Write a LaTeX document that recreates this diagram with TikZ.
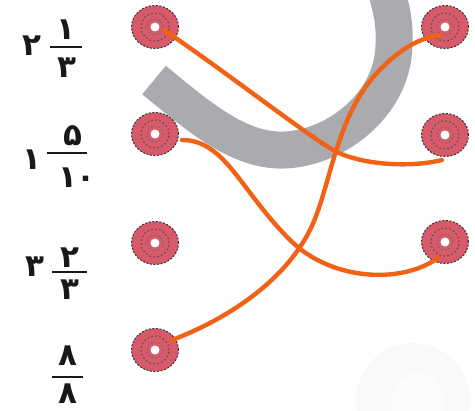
\documentclass[tikz,border=0pt]{standalone}
\usepackage{fontspec}
\newfontfamily\fafont[Script=Arabic]{DejaVu Sans}
\usetikzlibrary{shapes.geometric}
\definecolor{dotred}{RGB}{214,90,106}
\definecolor{wire}{RGB}{242,98,22}
\definecolor{band}{RGB}{170,171,175}
\tikzset{
  dotc/.style={ellipse, minimum width=47pt, minimum height=43pt, inner sep=0pt,
    fill=dotred, draw=black!80, line width=1pt, dash pattern=on 2pt off 1.6pt,
    path picture={
      \draw[black!70, line width=1pt, dash pattern=on 1.6pt off 2.4pt]
        (path picture bounding box.center) circle (14pt);
      \draw[black!60, line width=0.9pt, dash pattern=on 1.2pt off 2.6pt]
        (path picture bounding box.center) circle (8pt);
      \fill[white] (path picture bounding box.center) circle (4.5pt);
    }},
  wirel/.style={draw=wire, line width=4.4pt, line cap=round},
  digit/.style={font=\fafont\bfseries\fontsize{31}{31}\selectfont, inner sep=0pt, text=black!90},
  fbar/.style={line width=2.8pt, black!90},
}
\begin{document}
\begin{tikzpicture}[x=1pt,y=-1pt]
\useasboundingbox (0,0) rectangle (475,411);
% faint watermark at bottom right
\fill[black!2.5] (413,400) circle (57);
\fill[black!1] (418,405) ellipse (26 and 32);
% gray band watermark
\draw[band, line width=37pt, line cap=butt]
  (154,80) .. controls (200,118) and (240,152) .. (285,150)
  .. controls (335,148) and (393,105) .. (394,45)
  .. controls (395,25) and (392,10) .. (386,-10);

% dots
\node[dotc] (l1) at (155,27) {};
\node[dotc] (l2) at (155,134) {};
\node[dotc] (l3) at (155,243) {};
\node[dotc] (l4) at (155,350) {};
\node[dotc] (r1) at (445,27) {};
\node[dotc] (r2) at (445,135) {};
\node[dotc] (r3) at (445,242) {};

% connectors
\path[wirel] ([shift={(9,3)}]l1.center)
  .. controls (230,75) and (300,130) .. (333,150)
  .. controls (360,165) and (410,168) .. ([shift={(-3,25)}]r2.center);
\path[wirel] ([shift={(27,6)}]l2.center)
  .. controls (225,140) and (240,190) .. (290,240)
  .. controls (330,280) and (400,285) .. ([shift={(-7,16)}]r3.center);
\path[wirel] ([shift={(17,-10)}]l4.center)
  .. controls (230,318) and (285,280) .. (310,230)
  .. controls (330,190) and (335,120) .. (375,75)
  .. controls (400,48) and (420,38) .. ([shift={(-5,8)}]r1.center);

% labels
% 2 1/3
\node[digit] (w1) at (32,46) {۲};
\node[digit] (n1) at (66,30) {۱};
\draw[fbar] (50,47) coordinate (b1a) -- (82,47) coordinate (b1b);
\node[digit] (d1) at (67,68) {۳};
% 1 5/10
\node[digit] (w2) at (32,160) {۱};
\node[digit] (n2) at (73,136) {۵};
\draw[fbar] (47,153) coordinate (b2a) -- (87,153) coordinate (b2b);
\node[digit] (d2) at (77,178) {۱۰};
% 3 2/3
\node[digit] (w3) at (35,267) {۳};
\node[digit] (n3) at (70,258) {۲};
\draw[fbar] (52,272) coordinate (b3a) -- (87,272) coordinate (b3b);
\node[digit] (d3) at (70,290) {۳};
% 8/8
\node[digit] (n4) at (68,356) {۸};
\draw[fbar] (52,377) coordinate (b4a) -- (83,377) coordinate (b4b);
\node[digit] (d4) at (68,394) {۸};
\end{tikzpicture}
\end{document}
